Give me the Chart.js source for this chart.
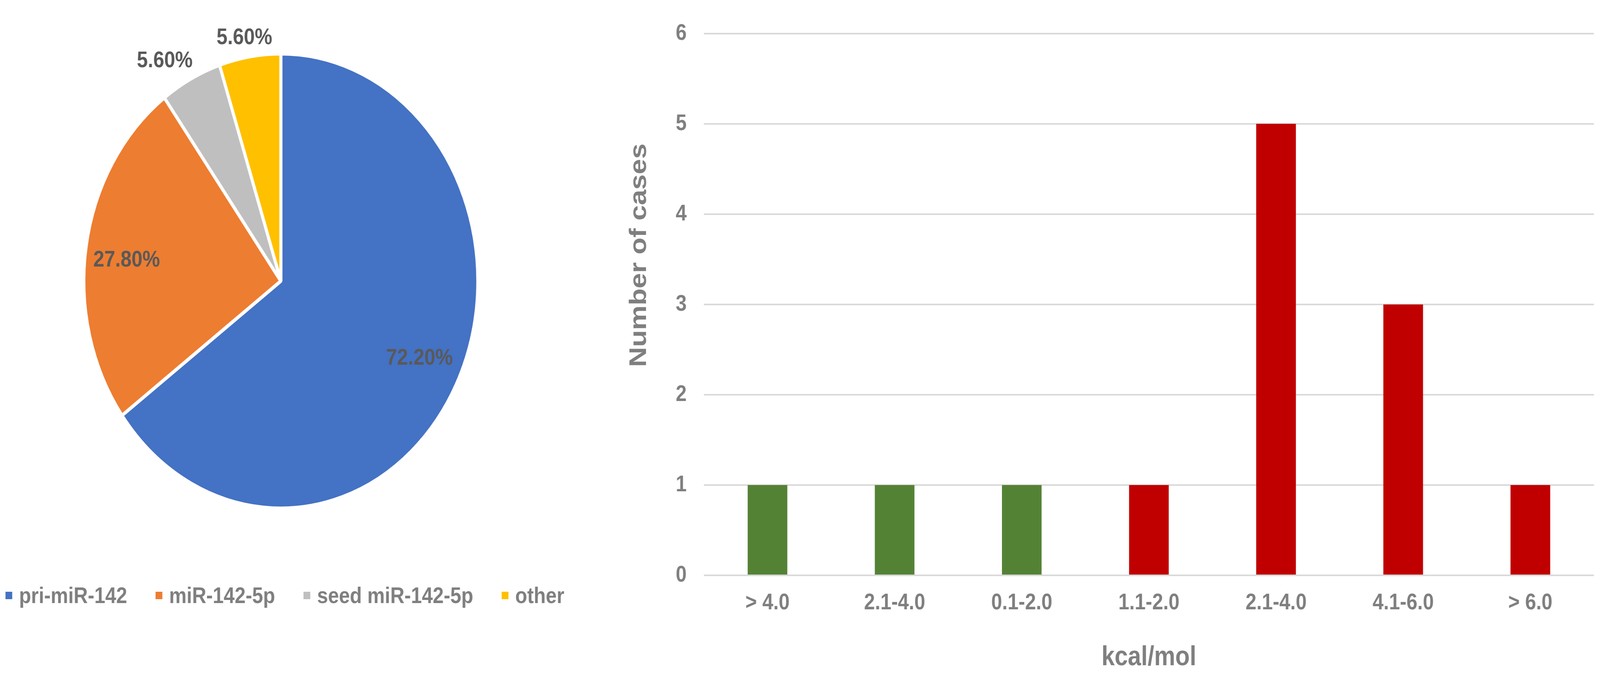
<!DOCTYPE html>
<html>
<head>
<meta charset="utf-8">
<title>miR-142 targets and binding energy</title>
<script src="https://cdn.jsdelivr.net/npm/chart.js@4.4.1/dist/chart.umd.min.js"></script>
<style>
    html, body { margin: 0; padding: 0; background: #ffffff; width: 100%; height: 100%; overflow: hidden; }
    canvas { position: absolute; top: 0; }
</style>
</head>
<body>
<canvas id="pieChart" width="1800" height="1727"></canvas>
<canvas id="barChart" width="2924" height="1727"></canvas>
<script>
// --- Pie data ---
const rnaTypes = ["pri-miR-142", "miR-142-5p", "seed miR-142-5p", "other"];
const rnaShares = [72.2, 27.8, 5.6, 5.6];

// --- Bar data ---
const energyBins = ["> 4.0", "2.1-4.0", "0.1-2.0", "1.1-2.0", "2.1-4.0", "4.1-6.0", "> 6.0"];
const caseCounts = [1, 1, 1, 1, 5, 3, 1];
const yTicks = [0, 1, 2, 3, 4, 5, 6];

// --- Styling ---
const sliceColors = ["#4472C4", "#ED7D31", "#BFBFBF", "#FFC000"];
const binColors = ["#548235", "#548235", "#548235", "#C00000", "#C00000", "#C00000", "#C00000"];
const axisText = "#7F7F7F";
const valueText = "#595959";
const fontFamily = "'Liberation Sans', Arial, Helvetica, sans-serif";

Chart.defaults.font.family = fontFamily;

// everything below is laid out on a 4724 x 1727 board, stretched to fill the window
const boardW = 4724, boardH = 1727;
const scaleX = window.innerWidth / boardW;
const scaleY = window.innerHeight / boardH;

function placeCanvas(id, left) {
    const c = document.getElementById(id);
    c.style.left = (left * scaleX) + "px";
    c.style.width = (c.width * scaleX) + "px";
    c.style.height = (c.height * scaleY) + "px";
    return c;
}

// label anchor = point on the slice bisector at k * radius, then a small nudge
const sliceLabelPlacement = [
    { k: 0.785, dx: 2, dy: -11 },
    { k: 0.785, dx: -4, dy: 13 },
    { k: 1.0, dx: -77, dy: -49 },
    { k: 1.0, dx: -16, dy: -51 }
];

const pieValueLabels = {
    id: "pieValueLabels",
    afterDatasetsDraw(chart) {
        const ctx = chart.ctx;
        const meta = chart.getDatasetMeta(0);
        ctx.save();
        ctx.font = `bold 58px ${fontFamily}`;
        ctx.fillStyle = valueText;
        ctx.textAlign = "center";
        ctx.textBaseline = "middle";
        meta.data.forEach((arc, i) => {
            const mid = (arc.startAngle + arc.endAngle) / 2;
            const place = sliceLabelPlacement[i];
            const x = arc.x + Math.cos(mid) * arc.outerRadius * place.k + place.dx;
            const y = arc.y + Math.sin(mid) * arc.outerRadius * place.k + place.dy;
            ctx.fillText(rnaShares[i].toFixed(2) + "%", x, y + 3);
        });
        ctx.restore();
    }
};

// Excel-style legend row under the pie
const pieLegendRow = {
    id: "pieLegendRow",
    afterDraw(chart) {
        const ctx = chart.ctx;
        const box = 20, gap = 20, spacing = 84;
        const centerX = chart.chartArea.left + chart.chartArea.width / 2 + 12;
        const rowY = 1524;
        ctx.save();
        ctx.font = `bold 58px ${fontFamily}`;
        const widths = rnaTypes.map(t => ctx.measureText(t).width);
        const total = widths.reduce((s, w) => s + box + gap + w, 0) + spacing * (rnaTypes.length - 1);
        let x = centerX - total / 2;
        ctx.textAlign = "left";
        ctx.textBaseline = "middle";
        rnaTypes.forEach((label, i) => {
            ctx.fillStyle = sliceColors[i];
            ctx.fillRect(x, rowY - box / 2, box, box - 1);
            ctx.fillStyle = axisText;
            ctx.fillText(label, x + box + gap, rowY + 3);
            x += box + gap + widths[i] + spacing;
        });
        ctx.restore();
    }
};

new Chart(placeCanvas("pieChart", 0), {
    type: "pie",
    data: {
        labels: rnaTypes,
        datasets: [{
            data: rnaShares,
            backgroundColor: sliceColors,
            borderColor: "#ffffff",
            borderWidth: 9
        }]
    },
    options: {
        responsive: false,
        animation: false,
        devicePixelRatio: 1,
        layout: { padding: { left: 243, top: 133, right: 385, bottom: 422 } },
        plugins: {
            legend: { display: false },
            tooltip: { enabled: false }
        }
    },
    plugins: [pieValueLabels, pieLegendRow]
});

// y title is centred a bit above the plot middle, as in the source figure
const yTitle = {
    id: "yTitle",
    afterDraw(chart) {
        const ctx = chart.ctx;
        ctx.save();
        ctx.translate(chart.scales.y.left + 84, 653);
        ctx.rotate(-Math.PI / 2);
        ctx.font = `bold 71px ${fontFamily}`;
        ctx.fillStyle = axisText;
        ctx.textAlign = "center";
        ctx.textBaseline = "middle";
        ctx.fillText("Number of cases", 0, 3);
        ctx.restore();
    }
};

new Chart(placeCanvas("barChart", 1800), {
    type: "bar",
    data: {
        labels: energyBins,
        datasets: [{
            data: caseCounts,
            backgroundColor: binColors,
            borderWidth: 0,
            barPercentage: 0.312,
            categoryPercentage: 1.0
        }]
    },
    options: {
        responsive: false,
        animation: false,
        devicePixelRatio: 1,
        layout: { padding: { left: 0, top: 38, right: 18, bottom: 0 } },
        plugins: {
            legend: { display: false },
            tooltip: { enabled: false }
        },
        scales: {
            x: {
                grid: { display: false, drawTicks: false },
                border: { display: false },
                ticks: {
                    color: axisText,
                    font: { size: 58, weight: "bold" },
                    padding: 36,
                    maxRotation: 0,
                    autoSkip: false
                },
                title: {
                    display: true,
                    text: "kcal/mol",
                    color: axisText,
                    font: { size: 70, weight: "bold" },
                    padding: { top: 0, bottom: 2 }
                },
                afterFit(scale) { scale.height = 255; }
            },
            y: {
                min: yTicks[0],
                max: yTicks[yTicks.length - 1],
                afterBuildTicks(scale) { scale.ticks = yTicks.map(v => ({ value: v })); },
                grid: { color: "#D9D9D9", lineWidth: 4, drawTicks: false },
                border: { display: false },
                ticks: {
                    color: axisText,
                    font: { size: 58, weight: "bold" },
                    padding: 51
                },
                afterFit(scale) { scale.width = 278; }
            }
        }
    },
    plugins: [yTitle]
});
</script>
</body>
</html>
